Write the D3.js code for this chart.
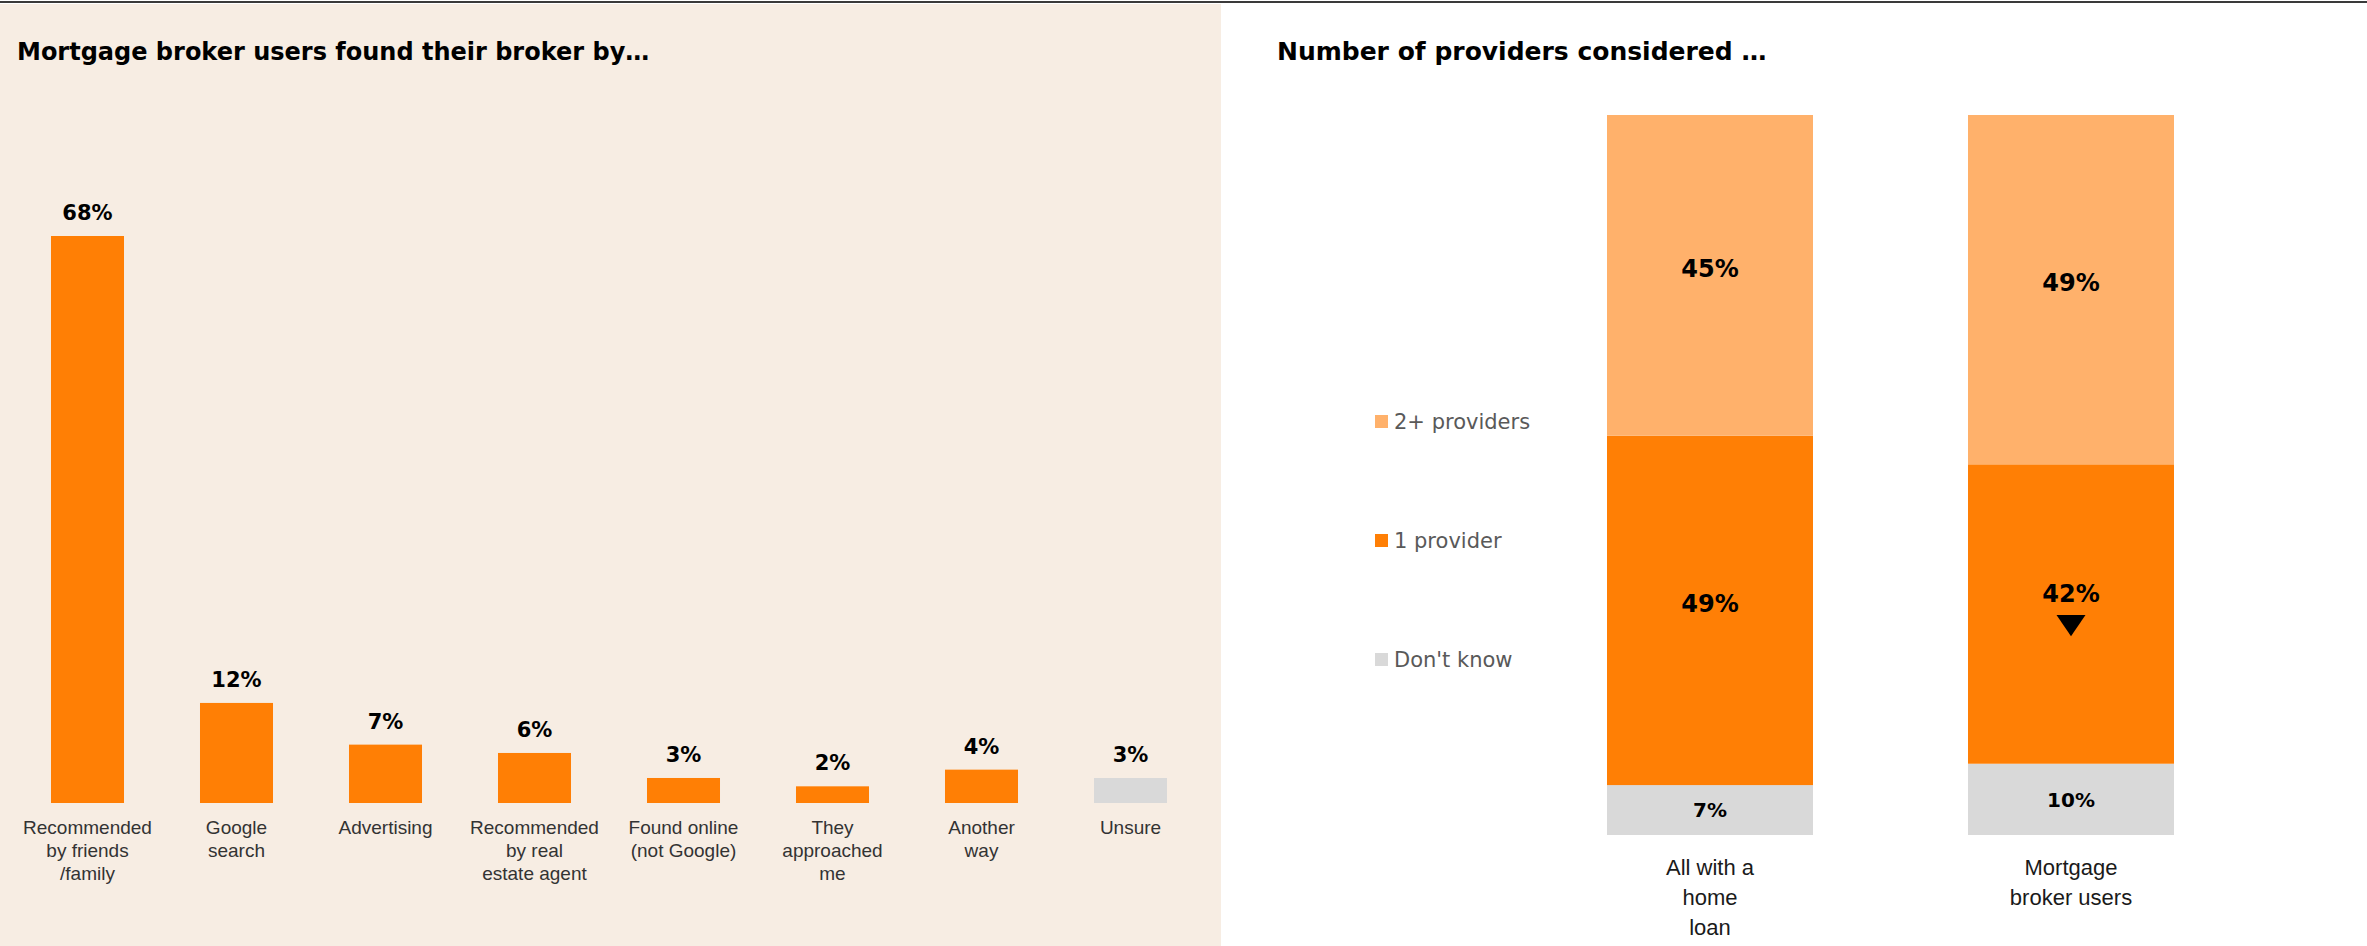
<!DOCTYPE html>
<html>
<head>
<meta charset="utf-8">
<script src="https://cdn.jsdelivr.net/npm/d3@7"></script>
<style>
  html, body { margin: 0; padding: 0; background: #fff; }
  svg { display: block; font-family: "DejaVu Sans", sans-serif; }
</style>
</head>
<body>
<svg id="chart" width="2367" height="946"></svg>
<script>
// left chart: how broker users found their broker
const foundCategories = [
  "Recommended\nby friends\n/family",
  "Google\nsearch",
  "Advertising",
  "Recommended\nby real\nestate agent",
  "Found online\n(not Google)",
  "They\napproached\nme",
  "Another\nway",
  "Unsure"
];
const foundValues = [68, 12, 7, 6, 3, 2, 4, 3];

// right chart: number of providers considered
const groups = ["All with a\nhome\nloan", "Mortgage\nbroker users"];
const providerKeys = ["Don't know", "1 provider", "2+ providers"];
const dontKnow = [7, 10];
const oneProvider = [49, 42];
const twoPlus = [45, 49];
const legendOrder = ["2+ providers", "1 provider", "Don't know"];
// significantly lower result marked with a down arrow
const sigLower = [{ group: 1, key: "1 provider" }];

const ORANGE = "#FF7F05";
const LIGHT = "#FFB16B";
const GREY = "#D9D9D9";

const svg = d3.select("#chart");

// background panel + top rule
svg.append("rect").attr("x", 0).attr("y", 4).attr("width", 1221).attr("height", 942).attr("fill", "#F7EDE3");
svg.append("line").attr("x1", 0).attr("x2", 2367).attr("y1", 2).attr("y2", 2)
  .attr("stroke", "#3a3a3a").attr("stroke-width", 2);

svg.append("text").attr("x", 17).attr("y", 60)
  .attr("font-size", 24).attr("font-weight", "bold").attr("fill", "#000")
  .text("Mortgage broker users found their broker by\u2026");

svg.append("text").attr("x", 1277).attr("y", 60)
  .attr("font-size", 25).attr("font-weight", "bold").attr("fill", "#000")
  .text("Number of providers considered \u2026");

// ---------- left bars ----------
const x1 = d3.scaleBand().domain(foundCategories).range([13, 1205])
  .paddingInner(0.51).paddingOuter(0.255);
const y1 = d3.scaleLinear().domain([0, d3.max(foundValues)]).range([803, 236]);

const left = svg.append("g");

left.selectAll("rect")
  .data(foundCategories)
  .join("rect")
    .attr("x", d => x1(d))
    .attr("width", x1.bandwidth())
    .attr("y", (d, i) => y1(foundValues[i]))
    .attr("height", (d, i) => y1(0) - y1(foundValues[i]))
    .attr("fill", d => d === "Unsure" ? GREY : ORANGE);

left.selectAll("text.val")
  .data(foundCategories)
  .join("text")
    .attr("class", "val")
    .attr("x", d => x1(d) + x1.bandwidth() / 2)
    .attr("y", (d, i) => y1(foundValues[i]) - 16)
    .attr("text-anchor", "middle")
    .attr("font-size", 21).attr("font-weight", "bold")
    .text((d, i) => foundValues[i] + "%");

const xAxis1 = left.append("g").attr("transform", "translate(0,803)")
  .call(d3.axisBottom(x1).tickSize(0).tickFormat(""));
xAxis1.select(".domain").remove();
xAxis1.selectAll(".tick").each(function (d) {
  const t = d3.select(this).append("text")
    .attr("text-anchor", "middle").attr("fill", "#333")
    .attr("font-size", 19).attr("y", 31);
  d.split("\n").forEach((line, j) => {
    t.append("tspan").attr("x", 0).attr("dy", j === 0 ? 0 : 23).text(line);
  });
});

// ---------- right stacked bars ----------
const table = groups.map((g, i) => ({
  group: g,
  "Don't know": dontKnow[i],
  "1 provider": oneProvider[i],
  "2+ providers": twoPlus[i]
}));
const colour = d3.scaleOrdinal().domain(providerKeys).range([GREY, ORANGE, LIGHT]);

const stack = d3.stack().keys(providerKeys).offset(d3.stackOffsetExpand);
const series = stack(table);

const x2 = d3.scaleBand().domain(groups).range([1529.5, 2251.5])
  .paddingInner(0.4294).paddingOuter(0.2147);
const y2 = d3.scaleLinear().domain([0, 1]).range([835, 115]);

const right = svg.append("g");

const layer = right.selectAll("g.layer")
  .data(series)
  .join("g")
    .attr("class", "layer")
    .attr("fill", d => colour(d.key));

layer.selectAll("rect")
  .data(d => d.map(p => Object.assign(p, { key: d.key })))
  .join("rect")
    .attr("x", d => x2(d.data.group))
    .attr("width", x2.bandwidth())
    .attr("y", d => y2(d[1]))
    .attr("height", d => y2(d[0]) - y2(d[1]));

const isSig = d => sigLower.some(s => groups[s.group] === d.data.group && s.key === d.key);

layer.selectAll("text")
  .data(d => d)
  .join("text")
    .attr("x", d => x2(d.data.group) + x2.bandwidth() / 2)
    .attr("y", d => {
      const mid = (y2(d[0]) + y2(d[1])) / 2;
      if (isSig(d)) return mid - 21;
      return d.key === "Don't know" ? mid : mid - 7;
    })
    .attr("dy", "0.36em")
    .attr("text-anchor", "middle")
    .attr("fill", "#000")
    .attr("font-weight", "bold")
    .attr("font-size", d => d.key === "Don't know" ? 20 : 24)
    .text(d => d.data[d.key] + "%");

// down arrow for significant decrease
layer.selectAll("path.sig")
  .data(d => d.filter(isSig))
  .join("path")
    .attr("class", "sig")
    .attr("fill", "#000")
    .attr("transform", d => `translate(${x2(d.data.group) + x2.bandwidth() / 2},${(y2(d[0]) + y2(d[1])) / 2 + 8}) rotate(180) scale(1,0.85)`)
    .attr("d", d3.symbol(d3.symbolTriangle, 364));

const xAxis2 = right.append("g").attr("transform", "translate(0,835)")
  .call(d3.axisBottom(x2).tickSize(0).tickFormat(""));
xAxis2.select(".domain").remove();
xAxis2.selectAll(".tick").each(function (d) {
  const t = d3.select(this).append("text")
    .attr("text-anchor", "middle").attr("fill", "#1a1a1a")
    .attr("font-size", 22).attr("y", 40);
  d.split("\n").forEach((line, j) => {
    t.append("tspan").attr("x", 0).attr("dy", j === 0 ? 0 : 30).text(line);
  });
});

// legend
const legend = right.append("g").attr("transform", "translate(1375,415)");
const rows = legend.selectAll("g")
  .data(legendOrder)
  .join("g")
    .attr("transform", (d, i) => `translate(0,${i * 119})`);
rows.append("rect").attr("width", 13).attr("height", 13).attr("fill", d => colour(d));
rows.append("text").attr("x", 19).attr("y", 14)
  .attr("font-size", 21).attr("fill", "#595959")
  .text(d => d);
</script>
</body>
</html>
